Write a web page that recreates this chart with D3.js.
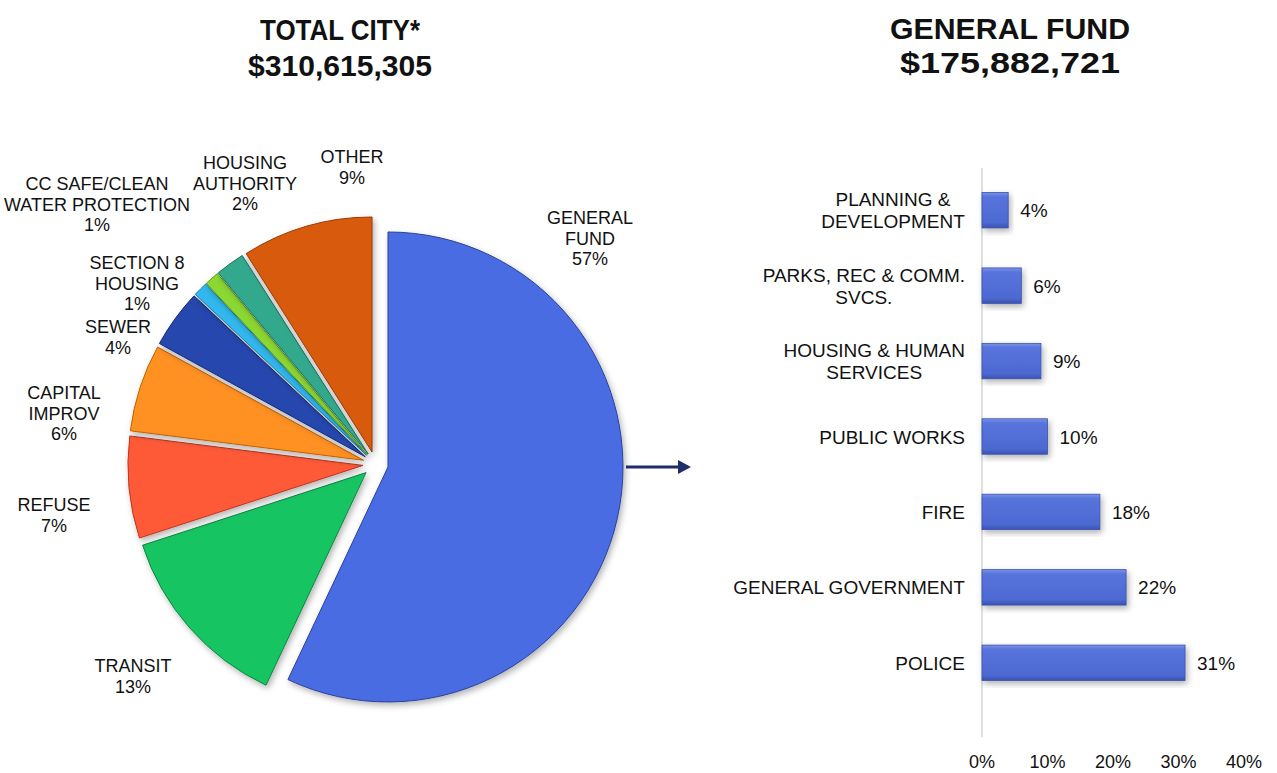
<!DOCTYPE html>
<meta charset="utf-8">
<style>
    body { margin: 0; background: #fff; }
    text { font-family: "Liberation Sans", Arial, sans-serif; fill: #111; }
    .title { font-weight: bold; font-size: 30px; }
    .pie-label { font-size: 18px; }
    .cat-label { font-size: 19px; }
    .value-label { font-size: 19px; }
    .tick-label { font-size: 18px; }
</style>
<svg width="1277" height="773"></svg>
<script src="https://d3js.org/d3.v7.min.js"></script>
<script>

    // total city funds (pie)
    var fundLines = [["GENERAL", "FUND"], ["TRANSIT"], ["REFUSE"], ["CAPITAL", "IMPROV"], ["SEWER"],
        ["SECTION 8", "HOUSING"], ["CC SAFE/CLEAN", "WATER PROTECTION"], ["HOUSING", "AUTHORITY"], ["OTHER"]];
    var fundShares = [57, 13, 7, 6, 4, 1, 1, 2, 9];
    var fundColors = [["#4a6ce2", "#3450c0"], ["#16c462", "#0ea64e"], ["#ff5a38", "#ee4020"],
        ["#ff9020", "#f07800"], ["#2846ae", "#1d358f"], ["#30b8ee", "#1c9fd8"],
        ["#8cd832", "#6fbf1c"], ["#32a88c", "#228a70"], ["#d85a10", "#bf4806"]];

    // general fund departments (bars)
    var deptLines = [["PLANNING &", "DEVELOPMENT"], ["PARKS, REC & COMM.", "SVCS."], ["HOUSING & HUMAN", "SERVICES"],
        ["PUBLIC WORKS"], ["FIRE"], ["GENERAL GOVERNMENT"], ["POLICE"]];
    var deptShares = [4, 6, 9, 10, 18, 22, 31];
    var xTicks = [0, 10, 20, 30, 40];

    var svg = d3.select("svg");
    var defs = svg.append("defs");

    var shadow = defs.append("filter").attr("id", "shadow")
        .attr("x", "-20%").attr("y", "-20%").attr("width", "140%").attr("height", "140%");
    shadow.append("feDropShadow").attr("dx", 2).attr("dy", 3).attr("stdDeviation", 3)
        .attr("flood-color", "#000").attr("flood-opacity", 0.3);

    // titles (condensed bold look)
    function title(x, y, s, len) {
        svg.append("text").attr("class", "title").attr("x", x - len / 2).attr("y", y)
            .attr("textLength", len).attr("lengthAdjust", "spacingAndGlyphs").text(s);
    }
    title(340, 40, "TOTAL CITY*", 160);
    title(340, 76, "$310,615,305", 184);
    title(1010, 39, "GENERAL FUND", 240);
    title(1010, 73, "$175,882,721", 220);

    // ---- pie ----
    var cx = 375.6, cy = 464.2, radius = 235, explode = 12.7;

    fundColors.forEach(function(c, i) {
        var lg = defs.append("linearGradient").attr("id", "pg" + i)
            .attr("gradientUnits", "userSpaceOnUse")
            .attr("x1", 0).attr("y1", cy - radius).attr("x2", 0).attr("y2", cy + radius);
        lg.append("stop").attr("offset", "0%").attr("stop-color", c[0]);
        lg.append("stop").attr("offset", "100%").attr("stop-color", c[1]);
    });

    var pie = d3.pie().sort(null).value(function(d) { return d; });
    var arc = d3.arc().innerRadius(0).outerRadius(radius);
    var arcs = pie(fundShares);

    var pg = svg.append("g").attr("transform", "translate(" + cx + "," + cy + ")");
    pg.selectAll("path")
        .data(arcs)
        .enter().append("path")
        .attr("d", arc)
        .attr("transform", function(d) {
            var a = (d.startAngle + d.endAngle) / 2;
            return "translate(" + (Math.sin(a) * explode) + "," + (-Math.cos(a) * explode) + ")";
        })
        .attr("fill", function(d, i) { return "url(#pg" + i + ")"; })
        .attr("stroke", function(d, i) { return d3.color(fundColors[i][1]).darker(0.6); })
        .attr("stroke-width", 1)
        .attr("filter", "url(#shadow)");

    // pie labels (centre of first line)
    var pieLabelPos = [[590, 218], [133, 666], [54, 505], [64, 393], [118, 327],
        [137, 263], [97, 184], [245, 163], [352, 157]];

    fundLines.forEach(function(lines, i) {
        var t = svg.append("text").attr("class", "pie-label").attr("text-anchor", "middle");
        var all = lines.concat([fundShares[i] + "%"]);
        all.forEach(function(s, j) {
            t.append("tspan").attr("x", pieLabelPos[i][0])
                .attr("y", pieLabelPos[i][1] + j * 20.5 + 6).text(s);
        });
    });

    // arrow from pie to bars
    svg.append("line").attr("x1", 626).attr("y1", 467).attr("x2", 680).attr("y2", 467)
        .attr("stroke", "#1f2d6b").attr("stroke-width", 3);
    svg.append("path").attr("d", "M678,460 L691,467 L678,474 Z").attr("fill", "#1f2d6b");

    // ---- bars ----
    var x = d3.scaleLinear().domain([0, 40]).range([982, 1244]);
    var y = d3.scaleBand().domain(d3.range(deptShares.length))
        .range([172.5, 700.5]).paddingInner(0.53).paddingOuter(0.265);

    var bg = defs.append("linearGradient").attr("id", "barGrad")
        .attr("x1", 0).attr("y1", 0).attr("x2", 0).attr("y2", 1);
    bg.append("stop").attr("offset", "0%").attr("stop-color", "#7b93ea");
    bg.append("stop").attr("offset", "12%").attr("stop-color", "#5874dc");
    bg.append("stop").attr("offset", "85%").attr("stop-color", "#4d69d2");
    bg.append("stop").attr("offset", "100%").attr("stop-color", "#3a52b0");

    svg.append("line").attr("x1", 982).attr("x2", 982).attr("y1", 168).attr("y2", 737)
        .attr("stroke", "#d4d4d4").attr("stroke-width", 1.5);

    svg.selectAll(".bar")
        .data(deptShares)
        .enter().append("rect")
        .attr("class", "bar")
        .attr("x", x(0))
        .attr("y", function(d, i) { return y(i); })
        .attr("width", function(d) { return x(d) - x(0); })
        .attr("height", y.bandwidth())
        .attr("fill", "url(#barGrad)")
        .attr("stroke", "#3b51a8")
        .attr("stroke-width", 0.8)
        .attr("filter", "url(#shadow)");

    svg.selectAll(".value-label")
        .data(deptShares)
        .enter().append("text")
        .attr("class", "value-label")
        .attr("x", function(d) { return x(d) + 12; })
        .attr("y", function(d, i) { return y(i) + y.bandwidth() / 2 + 7; })
        .text(function(d) { return d + "%"; });

    // category labels, lines centred on each other, block right-aligned
    deptLines.forEach(function(lines, i) {
        var mid = y(i) + y.bandwidth() / 2;
        var t = svg.append("text").attr("class", "cat-label").attr("text-anchor", "middle");
        lines.forEach(function(s, j) {
            t.append("tspan").attr("x", 0)
                .attr("y", mid + (j - (lines.length - 1) / 2) * 22 + 7).text(s);
        });
        var w = t.node().getBBox().width;
        t.selectAll("tspan").attr("x", 965 - w / 2);
    });

    svg.selectAll(".tick-label")
        .data(xTicks)
        .enter().append("text")
        .attr("class", "tick-label")
        .attr("text-anchor", "middle")
        .attr("x", function(d) { return x(d); })
        .attr("y", 768)
        .text(function(d) { return d + "%"; });
</script>
